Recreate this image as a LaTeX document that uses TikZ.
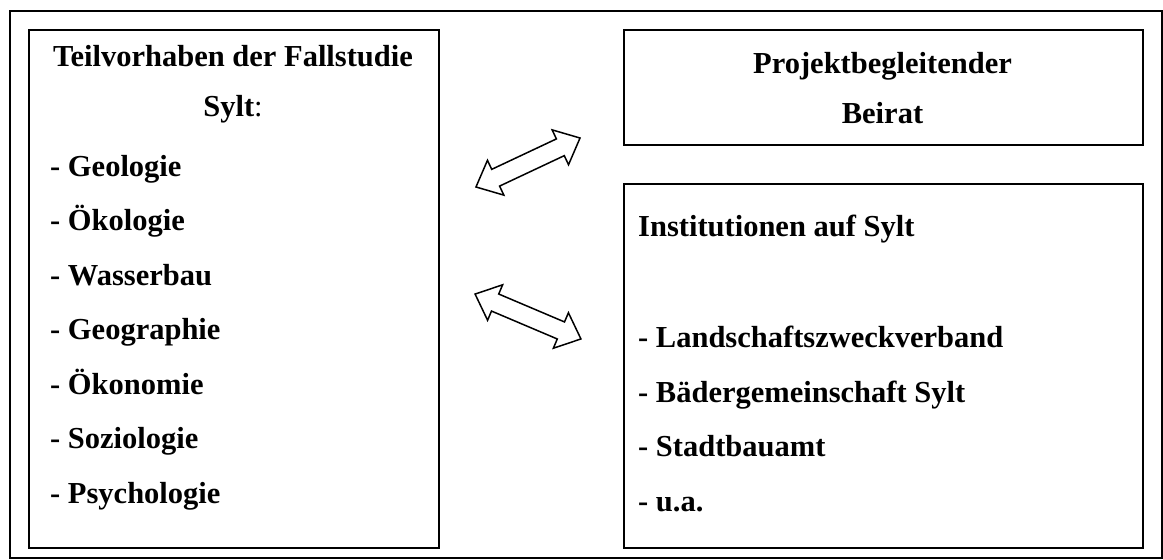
\documentclass[tikz,border=0pt]{standalone}
\usepackage{fontspec}
\setmainfont{Liberation Serif}
\usetikzlibrary{shapes.arrows}
\begin{document}
\begin{tikzpicture}[x=1pt,y=-1pt,
  box/.style={draw, line width=1.5pt, anchor=north west, inner sep=0pt},
  txt/.style={font=\fontsize{30.5}{36}\selectfont\bfseries, inner sep=0pt},
  li/.style={txt, anchor=base west},
  ctr/.style={txt, anchor=base},
  barrow/.style={double arrow, draw, line width=1.5pt, inner xsep=0pt, inner ysep=8.5pt,
    minimum height=115pt, double arrow head extend=10pt,
    double arrow tip angle=83}]
\useasboundingbox (0,0) rectangle (1163,560);
\node[box, minimum width=1152pt, minimum height=547pt] (frame) at (9,10) {};
\node[box, minimum width=410pt, minimum height=518pt] (teil) at (28,29) {};
\node[box, minimum width=519pt, minimum height=115pt] (beirat) at (623,29) {};
\node[box, minimum width=519pt, minimum height=364pt] (inst) at (623,183) {};
% left box texts
\node[ctr] (t1) at (233,66) {Teilvorhaben der Fallstudie};
\node[ctr] (t2) at (233,116) {Sylt\mdseries:};
\node[li] (g1) at (50,176) {- Geologie};
\node[li] (g2) at (50,230.5) {- Ökologie};
\node[li] (g3) at (50,285) {- Wasserbau};
\node[li] (g4) at (50,339.5) {- Geographie};
\node[li] (g5) at (50,394) {- Ökonomie};
\node[li] (g6) at (50,448.5) {- Soziologie};
\node[li] (g7) at (50,503) {- Psychologie};
% right top
\node[ctr] (b1) at (882.5,73) {Projektbegleitender};
\node[ctr] (b2) at (882.5,123) {Beirat};
% right bottom
\node[li] (i0) at (638,236) {Institutionen auf Sylt};
\node[li] (i1) at (638,347) {- Landschaftszweckverband};
\node[li] (i2) at (638,402) {- Bädergemeinschaft Sylt};
\node[li] (i3) at (638,456) {- Stadtbauamt};
\node[li] (i4) at (638,511) {- u.a.};
% arrows
\node[barrow, rotate=25.2] (arrA) at (528,162.5) {};
\node[barrow, rotate=-23] (arrB) at (528,316.5) {};
\end{tikzpicture}
\end{document}
